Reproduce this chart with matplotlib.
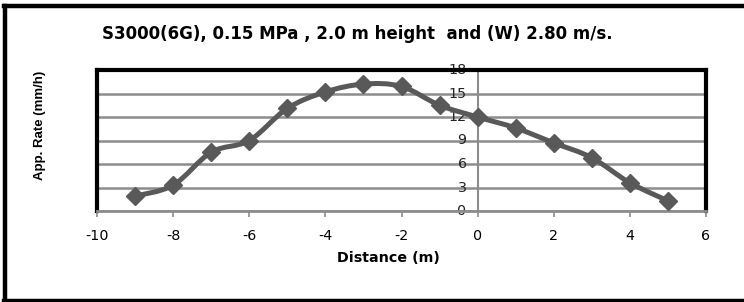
import matplotlib
matplotlib.use("Agg")
import matplotlib.pyplot as plt
import numpy as np
from matplotlib.path import Path
from matplotlib.patches import PathPatch
from matplotlib.lines import Line2D

plt.rcParams['font.family'] = ['DejaVu Sans']

# data
distance = [-9, -8, -7, -6, -5, -4, -3, -2, -1, 0, 1, 2, 3, 4, 5]
app_rate = [1.9, 3.3, 7.5, 9.0, 13.1, 15.2, 16.2, 15.9, 13.5, 12.0, 10.6, 8.7, 6.8, 3.6, 1.3]
x_ticks = [-10, -8, -6, -4, -2, 0, 2, 4, 6]
y_ticks = [0, 3, 6, 9, 12, 15, 18]

title = "S3000(6G), 0.15 MPa , 2.0 m height  and (W) 2.80 m/s."
line_color = '#595959'
grid_color = '#8c8c8c'


def smooth_path(xs, ys):
    """Excel-like smoothed line: cubic bezier through every point."""
    pts = np.column_stack([xs, ys]).astype(float)
    verts = [pts[0]]
    codes = [Path.MOVETO]
    n = len(pts)
    for i in range(n - 1):
        p0 = pts[max(i - 1, 0)]
        p1 = pts[i]
        p2 = pts[i + 1]
        p3 = pts[min(i + 2, n - 1)]
        c1 = p1 + (p2 - p0) / 6.0
        c2 = p2 - (p3 - p1) / 6.0
        verts += [c1, c2, p2]
        codes += [Path.CURVE4] * 3
    return Path(verts, codes)


fig = plt.figure(figsize=(7.44, 3.02), dpi=100)

# outer frame of the chart object (left, top, bottom)
W, H = 744.0, 302.0
fig.add_artist(Line2D([5 / W, 5 / W], [1 / H, 1 - 6 / H], color='black', lw=3.2, transform=fig.transFigure))
fig.add_artist(Line2D([3.5 / W, 1.0], [1 - 6 / H, 1 - 6 / H], color='black', lw=3.2, transform=fig.transFigure))
fig.add_artist(Line2D([3.5 / W, 1.0], [1 / H, 1 / H], color='black', lw=3.2, transform=fig.transFigure))

ax = fig.add_axes([97 / W, 1 - 211 / H, 609 / W, 141 / H])
ax.set_xlim(-10, 6)
ax.set_ylim(0, 18)

for side in ['left', 'top', 'right']:
    ax.spines[side].set_color('black')
    ax.spines[side].set_linewidth(3)
ax.spines['bottom'].set_color(grid_color)
ax.spines['bottom'].set_linewidth(2)

ax.set_yticks(y_ticks)
ax.yaxis.grid(True, color=grid_color, lw=1.8)
ax.set_axisbelow(True)
ax.tick_params(axis='y', length=0, labelleft=False)

ax.set_xticks(x_ticks)
ax.set_xticklabels([str(t) for t in x_ticks], fontsize=10.3)
ax.tick_params(axis='x', direction='out', length=4, width=1.2, color=grid_color, pad=9)

# vertical value axis crossing at x = 0
ax.axvline(0, color=grid_color, lw=1.5, zorder=1)
for v in y_ticks:
    ax.annotate(str(v), (0, v), xytext=(-8, 0), textcoords='offset points',
                ha='right', va='center', fontsize=10.3, color='#222222', zorder=2)

ax.add_patch(PathPatch(smooth_path(distance, app_rate), facecolor='none',
                       edgecolor=line_color, lw=3.6, zorder=3, capstyle='round'))
ax.plot(distance, app_rate, linestyle='none', marker='D', markersize=9,
        color=line_color, zorder=4)

fig.text(357 / W, 1 - 34 / H, title, ha='center', va='center', fontsize=12, fontweight='bold')
fig.text(388 / W, 1 - 258 / H, 'Distance (m)', ha='center', va='center', fontsize=10.3, fontweight='bold')
fig.text(40 / W, 1 - 125 / H, 'App. Rate (mm/h)', ha='center', va='center', rotation=90,
         fontsize=9.5, fontweight='bold', family=['Liberation Sans', 'DejaVu Sans'])

fig.savefig('out.png', dpi=100)
